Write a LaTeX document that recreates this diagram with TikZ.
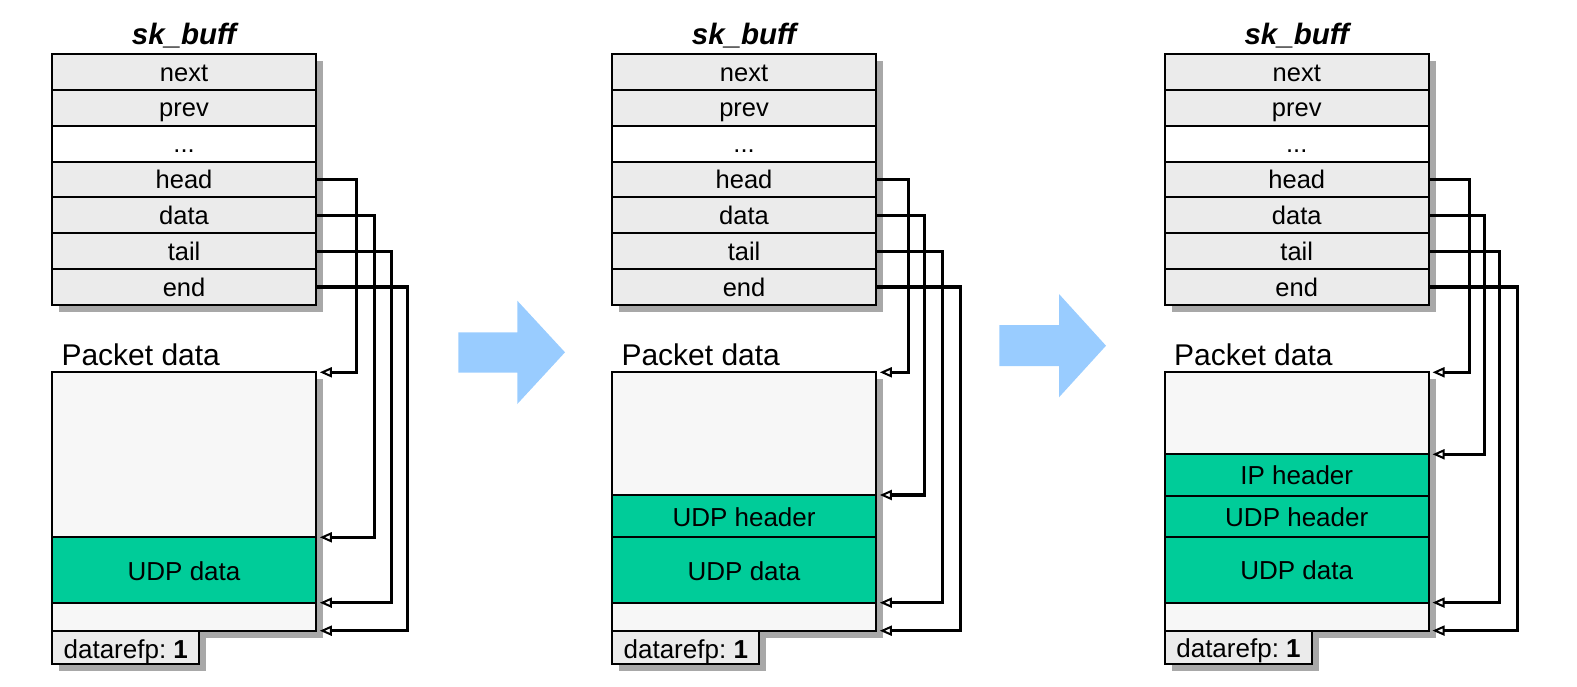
\documentclass[tikz,border=0pt]{standalone}
\usepackage{fontspec}
\setmainfont{Liberation Sans}
\usetikzlibrary{positioning,arrows.meta,shadows}
\definecolor{rowgray}{HTML}{EBEBEB}
\definecolor{pktgray}{HTML}{F7F7F7}
\definecolor{udpgreen}{HTML}{00CC99}
\definecolor{shadowgray}{HTML}{A8A8A8}
\definecolor{stepblue}{HTML}{99CCFF}
\tikzset{%
	field/.style    = {draw, line width=2pt, rectangle, fill=rowgray,
		outer sep=0pt, inner sep=0pt, minimum width=263.5pt, minimum height=35.8pt,
		text height=18pt, text depth=0pt, font=\fontsize{25.5}{30}\selectfont,
		drop shadow={shadow xshift=7pt, shadow yshift=-7pt, fill=shadowgray, opacity=1}},
	pkt/.style      = {field, fill=pktgray, minimum height=#1}, % free room
	hdr/.style      = {field, fill=udpgreen, text height=20pt, font=\fontsize{26}{31}\selectfont,
		minimum height=#1}, % filled part
	refcnt/.style   = {field, minimum width=147pt, minimum height=33.6pt,
		text height=21pt, font=\fontsize{26}{31}\selectfont},
	structname/.style = {inner sep=0pt, anchor=base, font=\fontsize{29.5}{34}\selectfont\bfseries\itshape},
	pdtitle/.style  = {inner sep=0pt, anchor=base west, font=\fontsize{30}{35}\selectfont},
	ptr/.style      = {line width=3.2pt,
		-{Triangle[open, length=12pt, width=10pt, line width=2pt]}}
}
\begin{document}
\begin{tikzpicture}[x=1pt, y=-1pt]
	\useasboundingbox (0,0) rectangle (1577,687);

	% the sk_buff struct, three times
	\foreach \p/\x in {1/52.3, 2/612.3, 3/1165} {
		\node[structname] (title\p) at (\x+131.75, 45) {sk\_buff};
		\node[field, anchor=north west] (next\p) at (\x, 54.3) {next};
		\node[field, below=0pt of next\p] (prev\p) {prev};
		\node[field, fill=white, below=0pt of prev\p] (dots\p) {...};
		\node[field, below=0pt of dots\p] (head\p) {head};
		\node[field, below=0pt of head\p] (data\p) {data};
		\node[field, below=0pt of data\p] (tail\p) {tail};
		\node[field, below=0pt of tail\p] (end\p) {end};
		\node[pdtitle] (pdlabel\p) at (\x+9, 365) {Packet data};
	}

	% packet data 1
	\node[pkt=165pt, anchor=north west] (room1) at (52.3, 372.3) {};
	\node[hdr=65.4pt, below=0pt of room1] (udpd1) {UDP data};
	\node[pkt=28pt, below=0pt of udpd1] (tailroom1) {};
	\node[refcnt, below=0pt of tailroom1.south west, anchor=north west] (ref1) {datarefp:~\textbf{1}};

	% packet data 2
	\node[pkt=122.7pt, anchor=north west] (room2) at (612.3, 372.3) {};
	\node[hdr=42.3pt, below=0pt of room2] (udph2) {UDP header};
	\node[hdr=65.4pt, below=0pt of udph2] (udpd2) {UDP data};
	\node[pkt=28pt, below=0pt of udpd2] (tailroom2) {};
	\node[refcnt, below=0pt of tailroom2.south west, anchor=north west] (ref2) {datarefp:~\textbf{1}};

	% packet data 3
	\node[pkt=82pt, anchor=north west] (room3) at (1165, 372.3) {};
	\node[hdr=41.3pt, below=0pt of room3] (iph3) {IP header};
	\node[hdr=41.6pt, below=0pt of iph3] (udph3) {UDP header};
	\node[hdr=65.4pt, below=0pt of udph3] (udpd3) {UDP data};
	\node[pkt=28pt, below=0pt of udpd3] (tailroom3) {};
	\node[refcnt, below=0pt of tailroom3.south west, anchor=north west] (ref3) {datarefp:~\textbf{1}};

	% pointers
	\draw[ptr] (head1.east) -- ++(41,0) |- ([xshift=4pt]room1.north east);
	\draw[ptr] (data1.east) -- ++(59,0) |- ([xshift=4pt]udpd1.north east);
	\draw[ptr] (tail1.east) -- ++(76,0) |- ([xshift=4pt]tailroom1.north east);
	\draw[ptr] (end1.east)  -- ++(92,0) |- ([xshift=4pt]tailroom1.south east);

	\draw[ptr] (head2.east) -- ++(33,0) |- ([xshift=4pt]room2.north east);
	\draw[ptr] (data2.east) -- ++(49,0) |- ([xshift=4pt]udph2.north east);
	\draw[ptr] (tail2.east) -- ++(67,0) |- ([xshift=4pt]tailroom2.north east);
	\draw[ptr] (end2.east)  -- ++(85,0) |- ([xshift=4pt]tailroom2.south east);

	\draw[ptr] (head3.east) -- ++(41,0) |- ([xshift=4pt]room3.north east);
	\draw[ptr] (data3.east) -- ++(56,0) |- ([xshift=4pt]iph3.north east);
	\draw[ptr] (tail3.east) -- ++(71,0) |- ([xshift=4pt]tailroom3.north east);
	\draw[ptr] (end3.east)  -- ++(89,0) |- ([xshift=4pt]tailroom3.south east);

	% big blue steps
	\fill[stepblue] (458.3,332.3) -- (517.3,332.3) -- (517.3,300.7) -- (565,352.3)
		-- (517.3,404) -- (517.3,372.7) -- (458.3,372.7) -- cycle;
	\fill[stepblue] (999.3,325) -- (1059,325) -- (1059,294) -- (1106,345.7)
		-- (1059,397.3) -- (1059,366) -- (999.3,366) -- cycle;
\end{tikzpicture}
\end{document}
